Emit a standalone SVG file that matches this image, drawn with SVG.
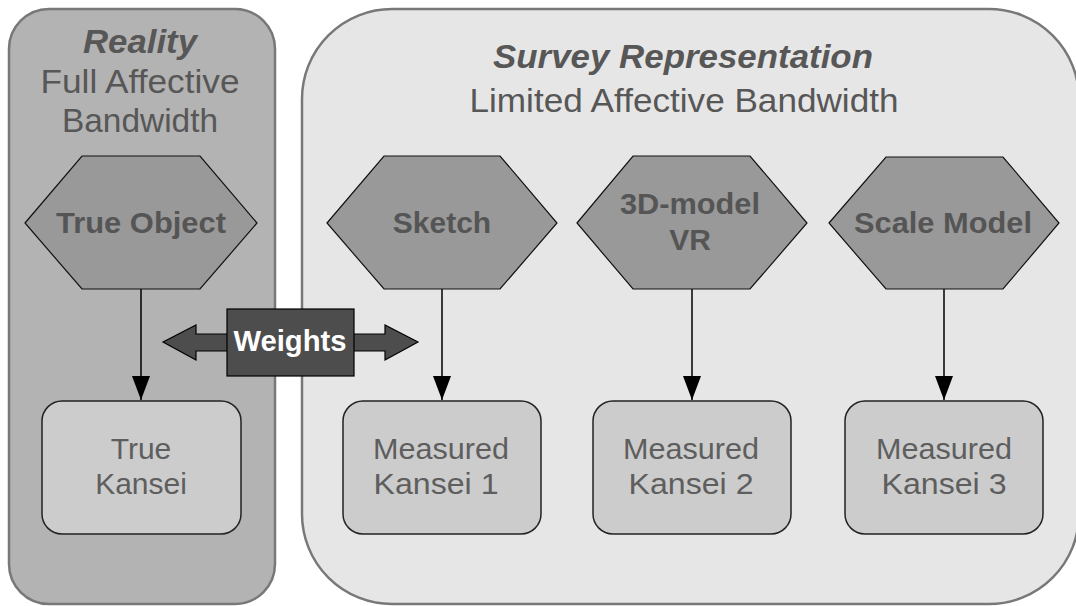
<svg xmlns="http://www.w3.org/2000/svg" width="1076" height="606" viewBox="0 0 1076 606">
<style>
.cont-l{fill:#b3b3b3;stroke:#787878;stroke-width:2.5}
.cont-r{fill:#e6e6e6;stroke:#787878;stroke-width:2.5}
.hdr{font-family:"Liberation Sans",Arial,sans-serif;font-size:33px;fill:#575757;text-anchor:middle}
.hdrb{font-weight:bold;font-style:italic}
.hex{fill:#999999;stroke:#111;stroke-width:1.2}
.hext{font-family:"Liberation Sans",Arial,sans-serif;font-size:30px;font-weight:bold;fill:#555555;text-anchor:middle}
.box{fill:#cccccc;stroke:#222;stroke-width:1.5}
.boxt{font-family:"Liberation Sans",Arial,sans-serif;font-size:30px;fill:#5e5e5e;text-anchor:middle}
.conn{stroke:#000;stroke-width:1.5;fill:none}
.wt{fill:#4d4d4d;stroke:#000;stroke-width:1.2}
.wtt{font-family:"Liberation Sans",Arial,sans-serif;font-size:29px;font-weight:bold;fill:#ffffff;text-anchor:middle}
</style>
<defs>
<marker id="arr" viewBox="0 -9 24 18" refX="24" refY="0" markerWidth="24" markerHeight="18" markerUnits="userSpaceOnUse" orient="auto">
<path d="M0,-9 L24,0 L0,9 z" fill="#000"/>
</marker>
</defs>
<rect width="1076" height="606" fill="#ffffff"/>
<g id="survey">
<rect class="cont-r" x="302" y="9" width="777" height="595" rx="90" ry="90"/>
<text class="hdr hdrb" x="683" y="68" textLength="380" lengthAdjust="spacingAndGlyphs">Survey Representation</text>
<text class="hdr" x="684" y="112" textLength="429" lengthAdjust="spacingAndGlyphs">Limited Affective Bandwidth</text>
</g>
<g id="reality">
<rect class="cont-l" x="9" y="9" width="266" height="595" rx="40" ry="40"/>
<text class="hdr hdrb" x="140" y="53" textLength="114" lengthAdjust="spacingAndGlyphs">Reality</text>
<text class="hdr" x="140" y="93" textLength="199" lengthAdjust="spacingAndGlyphs">Full Affective</text>
<text class="hdr" x="140" y="132" textLength="156" lengthAdjust="spacingAndGlyphs">Bandwidth</text>
</g>
<g id="connectors">
<line class="conn" x1="141" y1="289" x2="141" y2="400" marker-end="url(#arr)"/>
<line class="conn" x1="442" y1="289" x2="442" y2="400" marker-end="url(#arr)"/>
<line class="conn" x1="692" y1="289" x2="692" y2="400" marker-end="url(#arr)"/>
<line class="conn" x1="944" y1="289" x2="944" y2="400" marker-end="url(#arr)"/>
</g>
<g id="true-object">
<polygon class="hex" points="25,223 82,156 200,156 257,223 200,289 82,289"/>
<text class="hext" x="141" y="233" textLength="170" lengthAdjust="spacingAndGlyphs">True Object</text>
</g>
<g id="sketch">
<polygon class="hex" points="327,223 384,156 500,156 557,223 500,289 384,289"/>
<text class="hext" x="442" y="233">Sketch</text>
</g>
<g id="model-vr">
<polygon class="hex" points="577,223 633,156 750,156 807,223 750,289 633,289"/>
<text class="hext" x="690" y="214" textLength="140" lengthAdjust="spacingAndGlyphs">3D-model</text>
<text class="hext" x="690" y="250">VR</text>
</g>
<g id="scale-model">
<polygon class="hex" points="829,223 886,157 1003,157 1059,223 1003,289 886,289"/>
<text class="hext" x="943" y="233" textLength="178" lengthAdjust="spacingAndGlyphs">Scale Model</text>
</g>
<g id="true-kansei">
<rect class="box" x="42" y="401" width="199" height="133" rx="20" ry="20"/>
<text class="boxt" x="141" y="459">True</text>
<text class="boxt" x="141" y="494">Kansei</text>
</g>
<g id="measured-1">
<rect class="box" x="343" y="401" width="198" height="133" rx="20" ry="20"/>
<text class="boxt" x="441" y="459" textLength="136" lengthAdjust="spacingAndGlyphs">Measured</text>
<text class="boxt" x="436" y="494" textLength="125" lengthAdjust="spacingAndGlyphs">Kansei 1</text>
</g>
<g id="measured-2">
<rect class="box" x="593" y="401" width="198" height="133" rx="20" ry="20"/>
<text class="boxt" x="691" y="459" textLength="136" lengthAdjust="spacingAndGlyphs">Measured</text>
<text class="boxt" x="691" y="494" textLength="125" lengthAdjust="spacingAndGlyphs">Kansei 2</text>
</g>
<g id="measured-3">
<rect class="box" x="845" y="401" width="198" height="133" rx="20" ry="20"/>
<text class="boxt" x="944" y="459" textLength="136" lengthAdjust="spacingAndGlyphs">Measured</text>
<text class="boxt" x="944" y="494" textLength="125" lengthAdjust="spacingAndGlyphs">Kansei 3</text>
</g>
<g id="weights">
<polygon class="wt" points="163,342 196,325 196,334 385,334 385,325 418,342 385,360 385,351 196,351 196,360"/>
<rect class="wt" x="227" y="309" width="127" height="67"/>
<text class="wtt" x="290" y="351" textLength="113" lengthAdjust="spacingAndGlyphs">Weights</text>
</g>
</svg>
